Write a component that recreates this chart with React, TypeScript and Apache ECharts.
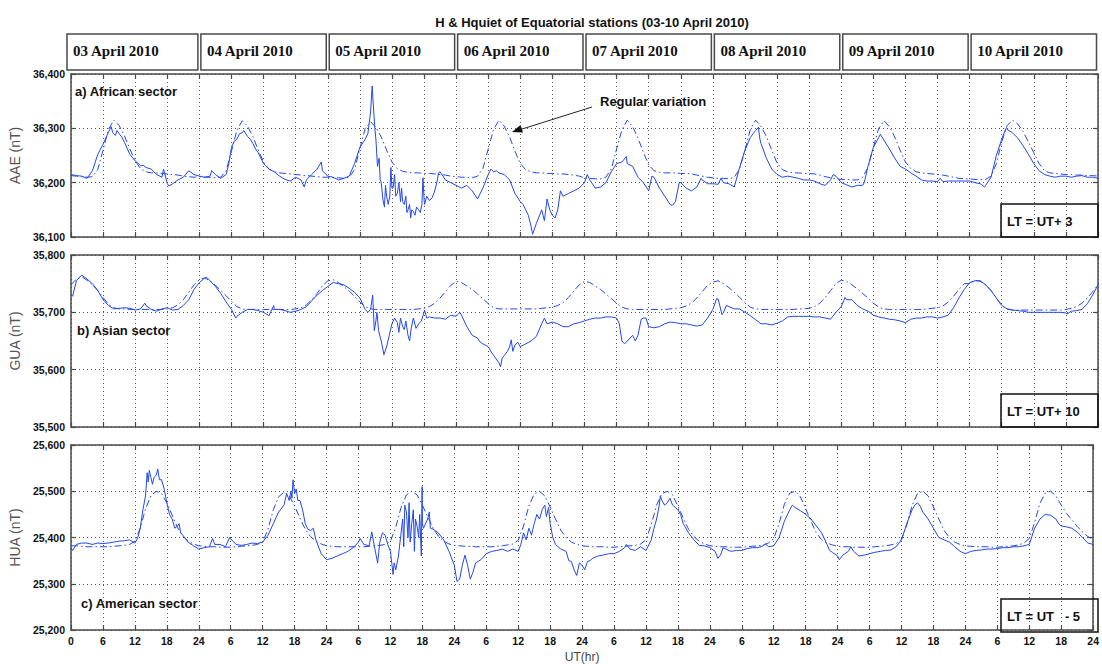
import React, { useEffect, useRef } from "react";
import * as echarts from "echarts";

// ---------- DATA (hourly values, hour 0 .. 192 UT over 03-10 April 2010) ----------
const DAYS = ["03 April 2010", "04 April 2010", "05 April 2010", "06 April 2010", "07 April 2010", "08 April 2010", "09 April 2010", "10 April 2010"];
const X_TICKS_MAX = 192;

// a) African sector — AAE observed H (hourly)
const AAE_H = [
  36215, 36213, 36212, 36208, 36222, 36252, 36271, 36293, 36290, 36290, 36274, 36252, 36240, 36231, 36228, 36225, 36215, 36210, 36198, 36198, 36205, 36210, 36222, 36215,
  36212, 36210, 36212, 36215, 36208, 36215, 36265, 36280, 36292, 36285, 36272, 36255, 36235, 36225, 36220, 36212, 36206, 36203, 36210, 36205, 36205, 36215, 36225, 36222,
  36212, 36210, 36205, 36208, 36212, 36235, 36265, 36280, 36330, 36280, 36200, 36175, 36190, 36180, 36165, 36150, 36147, 36150, 36170, 36167, 36185, 36220, 36205, 36200,
  36195, 36190, 36195, 36185, 36170, 36190, 36215, 36220, 36218, 36215, 36205, 36180, 36165, 36150, 36120, 36125, 36150, 36170, 36140, 36150, 36175, 36180, 36185, 36190,
  36200, 36205, 36190, 36192, 36200, 36220, 36235, 36238, 36235, 36230, 36210, 36200, 36185, 36210, 36190, 36175, 36160, 36165, 36200, 36190, 36185, 36192, 36205, 36198,
  36198, 36197, 36200, 36198, 36192, 36228, 36260, 36283, 36296, 36272, 36245, 36225, 36215, 36210, 36212, 36210, 36208, 36205, 36205, 36203, 36198, 36195, 36205, 36212,
  36200, 36196, 36192, 36195, 36195, 36230, 36265, 36283, 36278, 36262, 36245, 36230, 36225, 36218, 36212, 36205, 36203, 36203, 36202, 36202, 36203, 36203, 36203, 36203,
  36203, 36200, 36198, 36195, 36210, 36250, 36280, 36298, 36292, 36282, 36268, 36252, 36235, 36222, 36215, 36212, 36210, 36212, 36212, 36210, 36212, 36213, 36210, 36210, 36208,
];
// sub-hourly excursions of AAE [hour, nT]
const AAE_EXTRA: [number, number][] = [
  [7.5, 36303], [7.8, 36292], [8.3, 36287], [8.6, 36296], [9.5, 36284], [12.5, 36236], [13.5, 36232], [17.3, 36225], [18.3, 36194],
  [26.3, 36222], [29.5, 36235], [30.5, 36276], [31.5, 36290], [32.3, 36296], [33.5, 36280], [34.5, 36262], [43.6, 36192], [46.8, 36238],
  [55.5, 36290], [56.3, 36378], [56.5, 36345], [56.8, 36300], [57.3, 36230], [57.6, 36245], [57.8, 36205], [58.3, 36170], [58.6, 36155], [58.8, 36195],
  [59.3, 36160], [59.6, 36175], [59.8, 36228], [60.2, 36190], [60.5, 36215], [60.7, 36175], [61.3, 36200], [61.6, 36165], [61.8, 36190], [62.3, 36160],
  [62.6, 36175], [62.8, 36145], [63.3, 36160], [63.5, 36135], [63.7, 36150], [64.3, 36140], [64.6, 36155], [65.3, 36145], [65.6, 36160], [65.8, 36209],
  [66.1, 36160], [66.5, 36175], [67.5, 36172], [68.5, 36205], [68.7, 36218],
  [78.5, 36225], [79.5, 36222], [84.5, 36160], [85.5, 36140], [86.3, 36105], [88.5, 36130], [89.5, 36150], [90.5, 36135], [91.5, 36185],
  [96.5, 36215], [103.8, 36248], [108.6, 36212], [112.4, 36158], [113.7, 36200], [117.8, 36208],
  [121.5, 36208], [127.5, 36290], [128.5, 36302], [128.8, 36280], [142.5, 36215],
  [148.3, 36200], [151.3, 36289], [162.5, 36208], [170.8, 36192], [174.8, 36300],
];
// AAE Hquiet (hourly)
const AAE_Q = [
  36213, 36212, 36211, 36210, 36211, 36224, 36260, 36298, 36315, 36305, 36286, 36262, 36240, 36226, 36220, 36218, 36218, 36217, 36216, 36215, 36214, 36212, 36211, 36210,
  36211, 36210, 36210, 36209, 36210, 36222, 36258, 36296, 36314, 36304, 36285, 36260, 36238, 36225, 36220, 36218, 36217, 36216, 36215, 36214, 36213, 36212, 36211, 36210,
  36210, 36209, 36209, 36208, 36210, 36224, 36262, 36300, 36312, 36302, 36284, 36260, 36238, 36226, 36221, 36219, 36218, 36218, 36217, 36217, 36216, 36215, 36214, 36212,
  36211, 36210, 36210, 36209, 36212, 36226, 36262, 36298, 36315, 36304, 36284, 36258, 36235, 36224, 36220, 36218, 36218, 36217, 36217, 36216, 36216, 36215, 36214, 36212,
  36209, 36208, 36207, 36207, 36210, 36225, 36262, 36298, 36315, 36303, 36282, 36256, 36233, 36222, 36219, 36218, 36218, 36218, 36217, 36217, 36216, 36214, 36212, 36210,
  36209, 36208, 36208, 36207, 36210, 36225, 36260, 36298, 36315, 36304, 36285, 36260, 36236, 36224, 36220, 36218, 36218, 36217, 36217, 36216, 36214, 36211, 36209, 36207,
  36206, 36206, 36205, 36205, 36210, 36228, 36265, 36300, 36314, 36303, 36284, 36260, 36238, 36226, 36220, 36218, 36217, 36216, 36215, 36214, 36212, 36210, 36208, 36207,
  36207, 36206, 36206, 36206, 36212, 36235, 36275, 36305, 36315, 36308, 36294, 36275, 36255, 36235, 36222, 36218, 36217, 36216, 36215, 36215, 36214, 36214, 36213, 36213, 36212,
];

// b) Asian sector — GUA observed H (hourly)
const GUA_H = [
  35732, 35755, 35765, 35758, 35750, 35738, 35722, 35712, 35706, 35707, 35708, 35707, 35704, 35706, 35712, 35705, 35702, 35706, 35708, 35704, 35705, 35712, 35722, 35740,
  35752, 35760, 35755, 35745, 35733, 35718, 35705, 35693, 35700, 35705, 35705, 35703, 35700, 35694, 35705, 35705, 35703, 35700, 35702, 35705, 35710, 35720, 35730, 35738,
  35745, 35752, 35750, 35748, 35742, 35735, 35725, 35705, 35705, 35685, 35650, 35640, 35680, 35682, 35675, 35660, 35690, 35680, 35700, 35692, 35690, 35690, 35688, 35695,
  35693, 35695, 35675, 35660, 35655, 35645, 35640, 35625, 35612, 35625, 35640, 35643, 35640, 35645, 35650, 35658, 35680, 35680, 35683, 35680, 35675, 35675, 35680, 35682,
  35685, 35688, 35690, 35690, 35692, 35692, 35690, 35650, 35650, 35660, 35660, 35690, 35675, 35673, 35675, 35680, 35683, 35682, 35680, 35680, 35678, 35676, 35678, 35690,
  35705, 35723, 35700, 35710, 35706, 35706, 35700, 35694, 35687, 35680, 35680, 35678, 35681, 35685, 35692, 35693, 35693, 35693, 35693, 35692, 35692, 35690, 35688, 35700,
  35710, 35722, 35722, 35712, 35706, 35702, 35695, 35692, 35690, 35688, 35687, 35685, 35682, 35688, 35690, 35690, 35692, 35692, 35690, 35692, 35695, 35708, 35725, 35740,
  35752, 35755, 35755, 35748, 35738, 35725, 35712, 35706, 35704, 35703, 35702, 35700, 35700, 35700, 35700, 35700, 35700, 35700, 35699, 35702, 35703, 35705, 35715, 35730, 35748,
];
const GUA_EXTRA: [number, number][] = [
  [0.3, 35728], [13.8, 35716], [25.4, 35761], [30.8, 35690], [37.9, 35712],
  [55.5, 35700], [56.4, 35730], [56.6, 35690], [56.7, 35668], [57.2, 35700], [57.5, 35668], [58.5, 35626], [59.5, 35660], [60.5, 35690], [61.3, 35665],
  [61.6, 35690], [62.3, 35670], [62.6, 35685], [63.3, 35650], [63.6, 35672], [64.5, 35672], [65.5, 35685], [66.1, 35704], [66.5, 35690],
  [72.7, 35700], [76.5, 35648], [78.5, 35632], [80.3, 35605], [80.6, 35620], [81.6, 35632], [82.3, 35652], [82.6, 35632], [83.5, 35648], [88.5, 35690],
  [102.5, 35680], [103.5, 35645], [105.5, 35650], [106.6, 35688], [107.5, 35690],
  [120.7, 35724], [121.7, 35696], [122.5, 35712], [144.7, 35726], [186.2, 35697],
];
const GUA_Q = [
  35748, 35758, 35762, 35756, 35748, 35738, 35726, 35714, 35708, 35706, 35706, 35705, 35705, 35705, 35705, 35705, 35705, 35705, 35706, 35708, 35713, 35722, 35735, 35748,
  35757, 35760, 35755, 35747, 35738, 35729, 35719, 35710, 35706, 35705, 35705, 35705, 35705, 35705, 35705, 35705, 35705, 35705, 35706, 35708, 35713, 35722, 35733, 35746,
  35755, 35757, 35752, 35745, 35737, 35728, 35718, 35710, 35706, 35705, 35705, 35705, 35705, 35705, 35705, 35705, 35705, 35706, 35707, 35710, 35716, 35725, 35736, 35747,
  35754, 35752, 35746, 35740, 35732, 35724, 35715, 35708, 35706, 35706, 35706, 35706, 35706, 35706, 35706, 35706, 35707, 35708, 35709, 35712, 35717, 35726, 35737, 35748,
  35754, 35752, 35746, 35740, 35732, 35724, 35716, 35709, 35706, 35705, 35705, 35705, 35705, 35705, 35705, 35705, 35706, 35707, 35708, 35711, 35716, 35725, 35736, 35747,
  35753, 35755, 35750, 35743, 35735, 35726, 35717, 35709, 35706, 35705, 35705, 35705, 35705, 35705, 35705, 35705, 35706, 35706, 35707, 35710, 35716, 35726, 35738, 35750,
  35756, 35754, 35748, 35741, 35733, 35725, 35716, 35709, 35706, 35705, 35705, 35705, 35705, 35705, 35705, 35705, 35706, 35707, 35708, 35711, 35718, 35728, 35740, 35750,
  35750, 35756, 35754, 35748, 35738, 35725, 35712, 35706, 35704, 35704, 35704, 35704, 35704, 35704, 35704, 35704, 35704, 35704, 35705, 35707, 35710, 35716, 35725, 35736, 35748,
];

// c) American sector — HUA observed H (hourly)
const HUA_H = [
  25378, 25385, 25388, 25388, 25385, 25388, 25387, 25388, 25390, 25392, 25393, 25395, 25388, 25420, 25490, 25530, 25535, 25525, 25475, 25440, 25425, 25405, 25390, 25382,
  25375, 25378, 25380, 25385, 25385, 25380, 25397, 25385, 25383, 25385, 25388, 25387, 25390, 25405, 25430, 25455, 25470, 25480, 25495, 25480, 25430, 25415, 25395, 25365,
  25352, 25355, 25360, 25365, 25370, 25378, 25390, 25385, 25382, 25380, 25390, 25405, 25370, 25330, 25410, 25455, 25430, 25425, 25430, 25440, 25418, 25410, 25395, 25370,
  25340, 25310, 25362, 25310, 25345, 25352, 25365, 25370, 25372, 25375, 25370, 25375, 25370, 25410, 25420, 25430, 25440, 25470, 25430, 25385, 25375, 25370, 25348, 25318,
  25340, 25348, 25355, 25360, 25362, 25365, 25365, 25370, 25378, 25375, 25372, 25380, 25372, 25395, 25440, 25480, 25475, 25470, 25460, 25430, 25410, 25395, 25383, 25382,
  25378, 25370, 25362, 25375, 25370, 25372, 25372, 25376, 25378, 25378, 25382, 25380, 25382, 25400, 25435, 25460, 25465, 25458, 25450, 25440, 25425, 25410, 25385, 25368,
  25360, 25362, 25370, 25370, 25360, 25362, 25365, 25368, 25370, 25372, 25373, 25380, 25395, 25430, 25460, 25475, 25455, 25440, 25420, 25400, 25395, 25390, 25380, 25370,
  25365, 25370, 25372, 25373, 25375, 25375, 25376, 25378, 25378, 25380, 25380, 25382, 25385, 25420, 25440, 25450, 25448, 25440, 25425, 25423, 25420, 25412, 25400, 25388, 25385,
];
const HUA_EXTRA: [number, number][] = [
  [0.3, 25372], [12.5, 25398], [13.5, 25460], [14.3, 25540], [14.5, 25520], [14.7, 25545], [15.3, 25515], [15.6, 25530], [16.3, 25548], [16.6, 25525],
  [17.5, 25505], [18.5, 25450], [19.5, 25420], [20.3, 25430], [20.6, 25410],
  [26.6, 25398], [29.8, 25400], [40.5, 25495], [41.3, 25500], [41.5, 25485], [41.7, 25525], [42.3, 25505], [42.6, 25480], [43.5, 25460], [44.5, 25418], [45.5, 25420],
  [54.3, 25398], [56.5, 25412], [57.6, 25345], [58.5, 25410], [59.5, 25385], [60.5, 25320], [60.7, 25345], [61.5, 25360], [62.3, 25440], [62.5, 25380],
  [62.7, 25470], [63.3, 25400], [63.5, 25475], [63.7, 25390], [64.3, 25460], [64.5, 25370], [64.7, 25440], [65.3, 25400], [65.5, 25450], [65.8, 25360],
  [65.95, 25510], [66.2, 25420], [67.3, 25455], [67.5, 25420],
  [72.5, 25305], [73.5, 25340], [74.5, 25340], [75.5, 25325], [84.5, 25385], [85.5, 25395], [86.5, 25405], [87.5, 25450], [88.5, 25460], [89.3, 25445],
  [89.7, 25465], [90.5, 25400], [91.5, 25380], [93.5, 25350], [94.5, 25330],
  [95.5, 25345], [96.5, 25330], [97.5, 25350], [104.3, 25385], [109.5, 25420], [110.5, 25470], [110.7, 25490], [111.5, 25470], [112.5, 25485], [113.5, 25465], [114.5, 25450],
  [121.5, 25355], [122.5, 25378], [130.5, 25386], [135.5, 25470], [142.5, 25372],
  [144.3, 25352], [146.5, 25380], [158.5, 25470], [159.5, 25468], [185.5, 25430],
];
const HUA_Q = [
  25382, 25382, 25381, 25380, 25380, 25380, 25380, 25380, 25381, 25382, 25383, 25385, 25392, 25420, 25462, 25490, 25500, 25495, 25475, 25448, 25422, 25403, 25392, 25386,
  25382, 25381, 25380, 25380, 25379, 25379, 25379, 25380, 25381, 25382, 25383, 25385, 25390, 25418, 25460, 25488, 25498, 25490, 25468, 25442, 25418, 25402, 25392, 25386,
  25382, 25381, 25380, 25380, 25380, 25380, 25380, 25380, 25381, 25382, 25383, 25385, 25392, 25422, 25465, 25492, 25500, 25492, 25470, 25445, 25420, 25403, 25392, 25386,
  25383, 25382, 25381, 25381, 25380, 25380, 25380, 25380, 25381, 25382, 25384, 25386, 25394, 25425, 25468, 25494, 25500, 25490, 25466, 25440, 25416, 25400, 25390, 25385,
  25382, 25381, 25380, 25380, 25380, 25379, 25379, 25380, 25381, 25382, 25383, 25386, 25395, 25428, 25470, 25495, 25500, 25492, 25468, 25442, 25418, 25402, 25392, 25386,
  25382, 25381, 25380, 25380, 25379, 25379, 25379, 25380, 25381, 25382, 25384, 25388, 25398, 25430, 25472, 25496, 25500, 25488, 25462, 25435, 25410, 25395, 25388, 25384,
  25381, 25380, 25380, 25379, 25379, 25379, 25379, 25380, 25381, 25382, 25384, 25387, 25396, 25428, 25470, 25495, 25500, 25490, 25466, 25440, 25415, 25400, 25390, 25385,
  25382, 25381, 25380, 25380, 25380, 25379, 25379, 25380, 25381, 25382, 25384, 25388, 25398, 25432, 25474, 25496, 25500, 25490, 25470, 25452, 25438, 25424, 25412, 25402, 25396,
];

const Y_NAMES = ["AAE (nT)", "GUA (nT)", "HUA (nT)"];
const Y_RANGES: [number, number][] = [[36100, 36400], [35500, 35800], [25200, 25600]];
const SECTOR_LABELS = ["a) African sector", "b) Asian sector", "c) American sector"];
const LT_LABELS = ["LT = UT+ 3", "LT = UT+ 10", "LT = UT   - 5"];
const TITLE = "H & Hquiet of Equatorial stations (03-10 April 2010)";

// ---------- LAYOUT ----------
const LEFT = 71;
const WIDTH = 1027;
const PANELS = [
  { top: 74, height: 163 },
  { top: 255, height: 172 },
  { top: 445, height: 187 },
];
const SANS = 'Arial, "Liberation Sans", Helvetica, sans-serif';
const SERIF = '"Times New Roman", "Liberation Serif", serif';
const LINE_COLOR = "#2348ea";
const FRAME = "#4a4a4a";

function merge(hourly: number[], extra: [number, number][]) {
  const pts: [number, number][] = hourly.map((v, i) => [i, v] as [number, number]).concat(extra);
  pts.sort((a, b) => a[0] - b[0]);
  return pts;
}

function hourLabel(v: number) {
  if (v === 0) return "0";
  const r = v % 24;
  return r === 0 ? "24" : String(r);
}

export default function App() {
  const ref = useRef<HTMLDivElement>(null);

  useEffect(() => {
    if (!ref.current) return;
    const chart = echarts.init(ref.current, null, { renderer: "svg" });

    const obs = [merge(AAE_H, AAE_EXTRA), merge(GUA_H, GUA_EXTRA), merge(HUA_H, HUA_EXTRA)];
    const quiet = [AAE_Q, GUA_Q, HUA_Q].map((q) => q.map((v, i) => [i, v]));

    const grid: any[] = [];
    const xAxis: any[] = [];
    const yAxis: any[] = [];
    const series: any[] = [];
    const graphic: any[] = [];

    PANELS.forEach((p, k) => {
      grid.push({ left: LEFT, top: p.top, width: WIDTH, height: p.height });
      const axisLine = { show: true, onZero: false, lineStyle: { color: FRAME, width: 1.5 } };
      const axisTick = { show: true, inside: true, length: 5, lineStyle: { color: FRAME, width: 1.2 } };
      xAxis.push({
        type: "value", gridIndex: k, min: 0, max: X_TICKS_MAX, interval: 6, position: "bottom",
        axisLine, axisTick,
        axisLabel: { show: k === 2, formatter: hourLabel, fontFamily: SANS, fontWeight: "bold", fontSize: 10.5, color: "#111", margin: 5 },
        splitLine: { show: true, lineStyle: { type: [1, 3], color: "#555", width: 1 } },
        name: k === 2 ? "UT(hr)" : "", nameLocation: "middle", nameGap: 21,
        nameTextStyle: { fontFamily: SANS, fontSize: 12, color: "#444" },
      });
      xAxis.push({
        type: "value", gridIndex: k, min: 0, max: X_TICKS_MAX, interval: 6, position: "top",
        axisLine, axisTick, axisLabel: { show: false }, splitLine: { show: false },
      });
      const [mn, mx] = Y_RANGES[k];
      yAxis.push({
        type: "value", gridIndex: k, min: mn, max: mx, interval: 100, position: "left",
        axisLine, axisTick,
        axisLabel: {
          formatter: (v: number) => v.toLocaleString("en-US"),
          fontFamily: SANS, fontWeight: "bold", fontSize: 10.5, color: "#111", margin: 6,
        },
        splitLine: { show: true, lineStyle: { type: [1, 3], color: "#555", width: 1 } },
        name: Y_NAMES[k], nameLocation: "middle", nameGap: 46,
        nameTextStyle: { fontFamily: SANS, fontSize: 14, color: "#555" },
      });
      yAxis.push({
        type: "value", gridIndex: k, min: mn, max: mx, interval: 100, position: "right",
        axisLine, axisTick, axisLabel: { show: false }, splitLine: { show: false },
      });
      series.push({
        type: "line", xAxisIndex: 2 * k, yAxisIndex: 2 * k, data: obs[k], showSymbol: false, symbol: "none",
        lineStyle: { color: LINE_COLOR, width: 1 }, itemStyle: { color: LINE_COLOR }, z: 3,
      });
      series.push({
        type: "line", xAxisIndex: 2 * k, yAxisIndex: 2 * k, data: quiet[k], showSymbol: false, symbol: "none",
        lineStyle: { color: LINE_COLOR, width: 1, type: [7, 3, 1.5, 3] }, itemStyle: { color: LINE_COLOR }, z: 2,
      });

      // LT box (inside the plot's lower-right corner)
      const bx = LEFT + WIDTH - 97;
      const by = p.top + p.height - 33;
      graphic.push({
        type: "rect", z: 10,
        shape: { x: bx, y: by, width: 97, height: 33 }, style: { fill: "none", stroke: "#111", lineWidth: 1.5 },
      });
      graphic.push({
        type: "text", z: 11, x: bx + 6, y: by + 17,
        style: { text: LT_LABELS[k], font: `bold 13px ${SANS}`, fill: "#111", verticalAlign: "middle", align: "left" },
      });
    });

    // sector labels
    graphic.push({ type: "text", x: 75, y: 91, z: 11, style: { text: SECTOR_LABELS[0], font: `bold 13px ${SANS}`, fill: "#111", verticalAlign: "middle" } });
    graphic.push({ type: "text", x: 77, y: 330, z: 11, style: { text: SECTOR_LABELS[1], font: `bold 13px ${SANS}`, fill: "#111", verticalAlign: "middle" } });
    graphic.push({ type: "text", x: 81, y: 603, z: 11, style: { text: SECTOR_LABELS[2], font: `bold 13px ${SANS}`, fill: "#111", verticalAlign: "middle" } });

    // annotation "Regular variation"
    graphic.push({ type: "text", x: 600, y: 101, z: 11, style: { text: "Regular variation", font: `bold 13px ${SANS}`, fill: "#111", verticalAlign: "middle" } });
    graphic.push({ type: "line", z: 11, shape: { x1: 592, y1: 107, x2: 519, y2: 130 }, style: { stroke: "#222", lineWidth: 1 } });
    graphic.push({ type: "polygon", z: 11, shape: { points: [[512, 132], [523, 132.5], [520.5, 125]] }, style: { fill: "#111" } });

    // header date boxes
    const dayW = WIDTH / DAYS.length;
    DAYS.forEach((d, i) => {
      const x0 = LEFT + dayW * i + (i === 0 ? -4 : 1.5);
      const x1 = LEFT + dayW * (i + 1) - 1.5;
      graphic.push({
        type: "rect", z: 10,
        shape: { x: x0, y: 34, width: x1 - x0, height: 36 }, style: { fill: "#fff", stroke: FRAME, lineWidth: 1.5 },
      });
      graphic.push({
        type: "text", z: 11, x: x0 + 6, y: 51,
        style: { text: d, font: `bold 15px ${SERIF}`, fill: "#111", verticalAlign: "middle" },
      });
    });

    const option: any = {
      animation: false,
      backgroundColor: "#fff",
      title: {
        text: TITLE, left: 587, top: 11, textAlign: "center",
        textStyle: { fontFamily: SANS, fontWeight: "bold", fontSize: 13, color: "#111" },
      },
      grid, xAxis, yAxis, series, graphic,
    };
    chart.setOption(option);
    return () => chart.dispose();
  }, []);

  return <div ref={ref} style={{ position: "absolute", left: 0, top: 0, width: 1102, height: 664, background: "#fff" }} />;
}
